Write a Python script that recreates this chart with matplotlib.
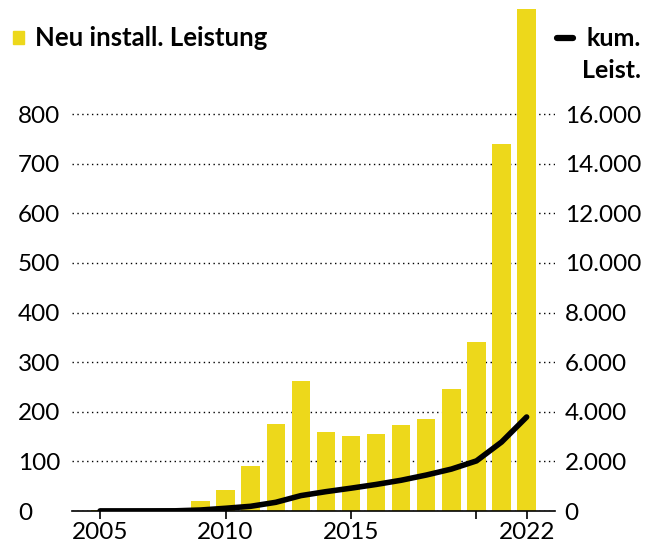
import matplotlib.pyplot as plt
from matplotlib.patches import Rectangle
from matplotlib.lines import Line2D

plt.rcParams['font.family'] = ['Lato', 'DejaVu Sans']

# Data
years = list(range(2005, 2023))
new_cap = [3, 0, 0, 0, 20, 42, 91, 175, 262, 159, 151, 155, 173, 185, 246, 341, 740, 1012]
cum_cap = [5, 5, 6, 8, 40, 110, 190, 350, 620, 780, 920, 1070, 1240, 1450, 1690, 2020, 2780, 3790]
xtick_pos = [2005, 2010, 2015, 2020, 2022]
xtick_lab = ["2005", "2010", "2015", "", "2022"]
left_ticks = [0, 100, 200, 300, 400, 500, 600, 700, 800]
right_ticks = [0, 2000, 4000, 6000, 8000, 10000, 12000, 14000, 16000]
right_lab = ["0", "2.000", "4.000", "6.000", "8.000", "10.000", "12.000", "14.000", "16.000"]

yellow = "#EDD81B"

fig = plt.figure(figsize=(6.46, 5.46), dpi=100)
ax = fig.add_axes([72/646, 35/546, (555-72)/646, (511-5)/546])
ax.bar(years, new_cap, width=0.73, color=yellow, zorder=2)
ax.set_xlim(2003.88, 2023.13)
ax.set_ylim(0, 1020)
ax.set_yticks(left_ticks)
ax.grid(axis='y', linestyle=(0, (1, 2.5)), color='black', linewidth=1, zorder=0)
ax.set_xticks(xtick_pos)
ax.set_xticklabels(xtick_lab)
ax.tick_params(axis='x', length=6, width=1.2, labelsize=17.5, pad=2)
ax.tick_params(axis='y', length=0, labelsize=17.5, pad=39)
for lbl in ax.get_yticklabels():
    lbl.set_horizontalalignment('left')
for s in ['top', 'left', 'right']:
    ax.spines[s].set_visible(False)
ax.spines['bottom'].set_linewidth(1.2)
ax.set_axisbelow(True)

ax2 = ax.twinx()
ax2.plot(years, cum_cap, color='black', linewidth=4, solid_capstyle='round',
         solid_joinstyle='round', zorder=3)
ax2.set_ylim(0, 1020 * 20)
ax2.set_yticks(right_ticks)
ax2.set_yticklabels(right_lab)
ax2.tick_params(axis='y', length=0, labelsize=17.5, pad=7)
for s in ['top', 'left', 'right', 'bottom']:
    ax2.spines[s].set_visible(False)

# Legend
fig.add_artist(Rectangle((13/646, 1-44/546), 11/646, 13/546, color=yellow,
                         transform=fig.transFigure))
fig.text(35/646, 1-38/546, "Neu install. Leistung", fontsize=18.5, fontweight='bold',
         va='center', ha='left')
fig.add_artist(Line2D([557/646, 573/646], [1-38/546, 1-38/546], color='black',
                      linewidth=4.5, solid_capstyle='round', transform=fig.transFigure))
fig.text(641/646, 1-38/546, "kum.", fontsize=18, fontweight='bold', va='center', ha='right')
fig.text(641/646, 1-70/546, "Leist.", fontsize=18, fontweight='bold', va='center', ha='right')

fig.savefig("out.png", dpi=100)
